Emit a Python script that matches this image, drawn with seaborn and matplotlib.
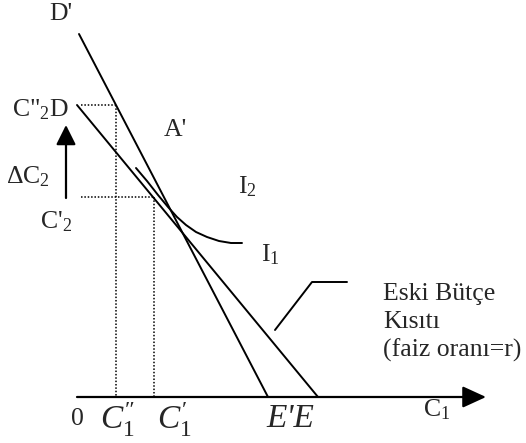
import matplotlib
matplotlib.use('Agg')
import matplotlib.pyplot as plt
import seaborn as sns

# Budget lines (x = C1, y = C2), endpoints
new_line_x = [2, 191]      # D' -> E'
new_line_y = [363, 0]
old_line_x = [0, 241]      # D -> E
old_line_y = [292, 0]

# Indifference curve I1
curve_x = [59, 70, 81, 91, 100, 109, 119, 130, 142, 154, 165]
curve_y = [229, 216, 202, 190, 180, 172, 165, 160, 156, 154, 154]

# Consumption levels for the dotted guides
c1_levels = [39, 77]       # C1'', C1'
c2_levels = [292, 200]     # C2'', C2'
guide_start = 4

# Delta C2 arrow and horizontal axis
delta_x = -11
delta_y = [199, 272]
axis_end = 409

# Leader line for the old budget constraint label
leader_x = [198, 235, 270]
leader_y = [67, 115, 115]

sns.set_theme(style='white')
plt.rcParams['font.family'] = ['Liberation Serif', 'DejaVu Serif']
plt.rcParams['mathtext.fontset'] = 'custom'
plt.rcParams['mathtext.rm'] = 'Liberation Serif'
plt.rcParams['mathtext.it'] = 'Liberation Serif:italic'

fig = plt.figure(figsize=(5.26, 4.43), dpi=100)
ax = fig.add_axes([0, 0, 1, 1])
ax.set_xlim(-77, 449)
ax.set_ylim(-46, 397)
ax.axis('off')

lw = 1.4
sns.lineplot(x=new_line_x, y=new_line_y, ax=ax, color='black', lw=lw, sort=False)
sns.lineplot(x=old_line_x, y=old_line_y, ax=ax, color='black', lw=lw, sort=False)
sns.lineplot(x=curve_x, y=curve_y, ax=ax, color='black', lw=lw, sort=False)
sns.lineplot(x=leader_x, y=leader_y, ax=ax, color='black', lw=lw, sort=False)

# dotted guides
for cx, cy in zip(c1_levels, c2_levels):
    ax.plot([guide_start, cx], [cy, cy], ls=(0, (1, 1.2)), color='black', lw=1.1)
    ax.plot([cx, cx], [cy, 0], ls=(0, (1, 1.2)), color='black', lw=1.1)

# horizontal axis with arrow
ax.annotate('', xy=(axis_end, 0), xytext=(0, 0),
            arrowprops=dict(arrowstyle='-|>,head_length=1.2,head_width=0.55',
                            color='black', lw=1.6, shrinkA=0, shrinkB=0))
# delta C2 arrow
ax.annotate('', xy=(delta_x, delta_y[1]), xytext=(delta_x, delta_y[0]),
            arrowprops=dict(arrowstyle='-|>,head_length=1.0,head_width=0.5',
                            color='black', lw=1.6, shrinkA=0, shrinkB=0))

fs = 18.5
ax.text(-16, 383, "D'", fontsize=fs, ha='center', va='center')
ax.text(-8, 281, 'C"$_2$D', fontsize=fs, ha='right', va='baseline')
ax.text(98, 267, "A'", fontsize=fs, ha='center', va='center')
ax.text(-49, 220, r'$\Delta$C$_2$', fontsize=fs, ha='center', va='center')
ax.text(-21, 169, "C'$_2$", fontsize=fs, ha='center', va='baseline')
ax.text(170, 210, 'I$_2$', fontsize=fs, ha='center', va='center')
ax.text(193, 142, 'I$_1$', fontsize=fs, ha='center', va='center')
ax.text(306, 103, 'Eski Bütçe', fontsize=fs, ha='left', va='center')
ax.text(306, 75, 'Kısıtı', fontsize=fs, ha='left', va='center')
ax.text(306, 47, '(faiz oranı=r)', fontsize=fs, ha='left', va='center')
ax.text(360, -13, 'C$_1$', fontsize=fs, ha='center', va='center')
ax.text(0, -22, '0', fontsize=fs, ha='center', va='center')

# italic C1'' / C1' with the prime stacked over the subscript
fs2 = 24
ax.text(23, -32, "$C^{″}_{1}$", fontsize=fs2, ha='left', va='baseline')
ax.text(80, -32, "$C^{′}_{1}$", fontsize=fs2, ha='left', va='baseline')
ax.text(213, -30, "E'E", fontsize=fs2, ha='center', va='baseline', style='italic')

fig.savefig('out.png', dpi=100)
